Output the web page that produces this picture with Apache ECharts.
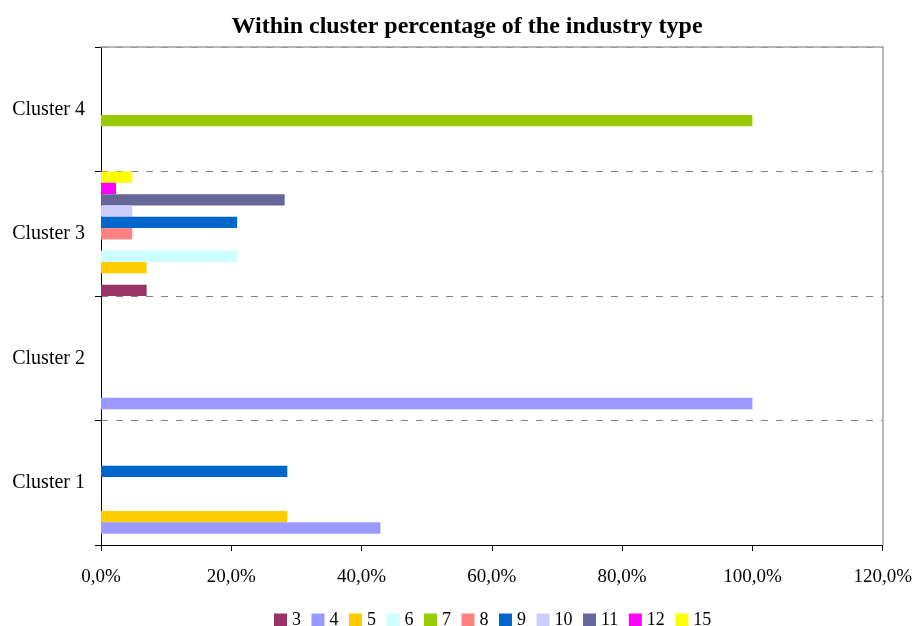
<!DOCTYPE html>
<html>
<head>
<meta charset="utf-8">
<style>
  html, body { margin: 0; padding: 0; background: #ffffff; }
  #chart { width: 915px; height: 626px; }
</style>
<script src="https://cdn.jsdelivr.net/npm/echarts@6/dist/echarts.min.js"></script>
</head>
<body>
<div id="chart"></div>
<script>
// Categories on the vertical axis (bottom to top)
const clusters = ['Cluster 1', 'Cluster 2', 'Cluster 3', 'Cluster 4'];

// Industry types (one bar series each)
const industryTypes = ['3', '4', '5', '6', '7', '8', '9', '10', '11', '12', '15'];

// Within-cluster share (%) of each industry type, per cluster 1..4
const type3  = [0,    0,   7.0,  0];
const type4  = [42.9, 100, 0,    0];
const type5  = [28.6, 0,   7.0,  0];
const type6  = [0,    0,   20.9, 0];
const type7  = [0,    0,   0,    100];
const type8  = [0,    0,   4.8,  0];
const type9  = [28.6, 0,   20.9, 0];
const type10 = [0,    0,   4.8,  0];
const type11 = [0,    0,   28.2, 0];
const type12 = [0,    0,   2.3,  0];
const type15 = [0,    0,   4.8,  0];

// Value axis ticks
const xTicks = [0, 20, 40, 60, 80, 100, 120];

const seriesValues = [type3, type4, type5, type6, type7, type8, type9, type10, type11, type12, type15];
const palette = ['#993366', '#9999FF', '#FFCC00', '#CCFFFF', '#99CC00', '#FF8080',
                 '#0066CC', '#CCCCFF', '#666699', '#FF00FF', '#FFFF00'];

const serif = '"Liberation Serif", "Times New Roman", serif';

// Plot area in pixels
const plot = { left: 101, top: 47, right: 883, bottom: 545 };
const bandHeight = (plot.bottom - plot.top) / clusters.length;
const barThickness = bandHeight / industryTypes.length;

const chart = echarts.init(document.getElementById('chart'), null, { renderer: 'canvas' });

// Bars fill each band from its bottom upward, first type lowest,
// so the series are registered in reverse order.
const order = industryTypes.map((_, i) => i).reverse();

chart.setOption({
  backgroundColor: '#ffffff',
  animation: false,
  title: {
    text: 'Within cluster percentage of the industry type',
    left: 462,
    textAlign: 'center',
    top: 10,
    textStyle: { fontFamily: serif, fontWeight: 'bold', fontSize: 24, color: '#000' }
  },
  legend: {
    data: industryTypes,
    left: 269,
    top: 606,
    itemWidth: 13,
    itemHeight: 13,
    itemGap: 10.5,
    icon: 'rect',
    textStyle: { fontFamily: serif, fontSize: 18, color: '#000' }
  },
  grid: {
    left: plot.left,
    right: 915 - plot.right,
    top: plot.top,
    bottom: 626 - plot.bottom,
    show: false
  },
  xAxis: [
    {
      type: 'value',
      min: xTicks[0],
      max: xTicks[xTicks.length - 1],
      interval: xTicks[1] - xTicks[0],
      axisLine: { show: true, onZero: false, lineStyle: { color: '#000', width: 1 } },
      axisTick: { show: true, inside: false, length: 6, lineStyle: { color: '#000' } },
      splitLine: { show: false },
      axisLabel: {
        margin: 23,
        fontFamily: serif,
        fontSize: 19,
        color: '#000',
        formatter: v => v.toFixed(1).replace('.', ',') + '%'
      },
      z: 4
    },
    {
      // top edge of the plot frame
      type: 'value',
      position: 'top',
      min: xTicks[0],
      max: xTicks[xTicks.length - 1],
      interval: xTicks[1] - xTicks[0],
      axisLine: { show: true, onZero: false, lineStyle: { color: '#a0a0a0', width: 1.5 } },
      axisTick: { show: false },
      axisLabel: { show: false },
      splitLine: { show: false },
      z: 3
    }
  ],
  yAxis: [
    {
      type: 'category',
      data: clusters,
      boundaryGap: true,
      axisLine: { show: true, onZero: false, lineStyle: { color: '#000', width: 1 } },
      axisTick: { show: true, inside: false, length: 6, lineStyle: { color: '#000' } },
      splitLine: { show: true, lineStyle: { color: '#808080', type: [7, 8], width: 1 } },
      axisLabel: { margin: 16, fontFamily: serif, fontSize: 20, color: '#000' },
      z: 1
    },
    {
      // right edge of the plot frame
      type: 'category',
      data: clusters,
      position: 'right',
      axisLine: { show: true, onZero: false, lineStyle: { color: '#a0a0a0', width: 1.5 } },
      axisTick: { show: false },
      axisLabel: { show: false },
      splitLine: { show: false },
      z: 3
    }
  ],
  series: order.map(i => ({
    name: industryTypes[i],
    type: 'bar',
    xAxisIndex: 0,
    yAxisIndex: 0,
    data: seriesValues[i],
    barWidth: barThickness,
    barGap: '0%',
    barCategoryGap: '0%',
    itemStyle: { color: palette[i] }
  }))
});
</script>
</body>
</html>
